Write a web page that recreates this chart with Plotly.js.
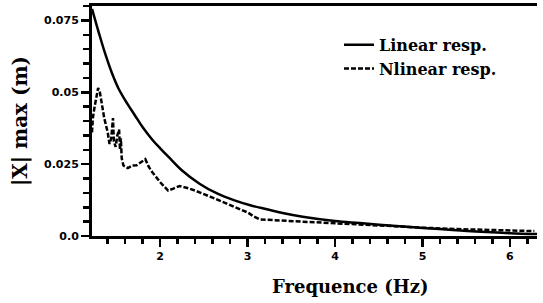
<!DOCTYPE html>
<html>
<head>
<meta charset="utf-8">
<script src="https://cdn.plot.ly/plotly-3.0.1.min.js"></script>
<style>html,body{margin:0;padding:0;background:#fff;}#chart{width:543px;height:303px;}</style>
</head>
<body>
<div id="chart"></div>
<script>
// Linear response
const linFreq = [1.22, 1.30, 1.37, 1.45, 1.52, 1.62, 1.71, 1.80, 1.91, 2.00, 2.09, 2.25, 2.45, 2.65, 2.85, 3.03, 3.22, 3.40, 3.63, 4.00, 4.28, 4.74, 5.00, 5.51, 6.00, 6.31];
const linAmp  = [0.079, 0.0705, 0.0635, 0.0565, 0.0515, 0.0462, 0.042, 0.0378, 0.0335, 0.0305, 0.0277, 0.0228, 0.0182, 0.0148, 0.0124, 0.0107, 0.0093, 0.0080, 0.0067, 0.0052, 0.0045, 0.0034, 0.0028, 0.0017, 0.0010, 0.0007];
// Nonlinear response
const nlFreq = [1.22, 1.23, 1.25, 1.27, 1.29, 1.31, 1.33, 1.36, 1.40, 1.42, 1.44, 1.46, 1.47, 1.49, 1.51, 1.53, 1.54, 1.55, 1.56, 1.58, 1.63, 1.68, 1.73, 1.78, 1.83, 1.87, 1.91, 2.00, 2.09, 2.15, 2.22, 2.30, 2.40, 2.57, 2.75, 2.90, 3.00, 3.07, 3.14, 3.30, 3.60, 4.00, 4.50, 5.00, 5.40, 5.70, 6.00, 6.28];
const nlAmp  = [0.036, 0.041, 0.045, 0.049, 0.0515, 0.050, 0.046, 0.041, 0.036, 0.032, 0.034, 0.041, 0.033, 0.031, 0.035, 0.037, 0.030, 0.034, 0.027, 0.0245, 0.0236, 0.0245, 0.0246, 0.0255, 0.0267, 0.024, 0.0222, 0.0187, 0.0158, 0.0165, 0.0174, 0.0168, 0.0158, 0.0137, 0.0115, 0.0095, 0.0082, 0.0068, 0.0058, 0.0055, 0.0050, 0.0045, 0.0036, 0.0029, 0.0024, 0.0021, 0.0019, 0.0017];
const yTickVals = [0, 0.025, 0.05, 0.075];
const yTickText = ["0.0", "0.025", "0.05", "0.075"];
const xTickVals = [2, 3, 4, 5, 6];
const xTickText = ["2", "3", "4", "5", "6"];
const seriesNames = ["Linear resp.", "Nlinear resp."];

const traces = [
  {x: linFreq, y: linAmp, name: seriesNames[0], mode: 'lines', line: {color: '#000', width: 2.5, shape: 'spline', smoothing: 1}},
  {x: nlFreq, y: nlAmp, name: seriesNames[1], mode: 'lines', line: {color: '#000', width: 2.5, dash: '5px,2px'}}
];

const serif = 'DejaVu Serif, Liberation Serif, serif';
const sans = 'DejaVu Sans, Liberation Sans, sans-serif';

const layout = {
  width: 543, height: 303,
  margin: {l: 92, r: 6, t: 6, b: 67},
  paper_bgcolor: '#fff', plot_bgcolor: '#fff',
  showlegend: true,
  legend: {x: 0.555, xanchor: 'left', y: 0.905, yanchor: 'top', bgcolor: 'rgba(0,0,0,0)',
           font: {family: serif, size: 16, color: '#000', weight: 'bold'}, tracegroupgap: 0},
  xaxis: {
    range: [1.22, 6.31], showgrid: false, zeroline: false,
    showline: true, linecolor: '#000', linewidth: 3, mirror: true,
    ticks: 'outside', ticklen: 8, tickwidth: 2.5, tickcolor: '#000',
    tickmode: 'array', tickvals: xTickVals, ticktext: xTickText,
    tickfont: {family: sans, size: 11, color: '#000', weight: 'bold'},
    minor: {dtick: 0.2, tick0: 0, ticks: 'outside', ticklen: 5, tickwidth: 2.5, tickcolor: '#000', showgrid: false}
  },
  yaxis: {
    range: [0, 0.08], showgrid: false, zeroline: false,
    showline: true, linecolor: '#000', linewidth: 3,
    ticks: 'outside', ticklen: 8, tickwidth: 2.5, tickcolor: '#000',
    tickmode: 'array', tickvals: yTickVals, ticktext: yTickText,
    tickfont: {family: sans, size: 11, color: '#000', weight: 'bold'},
    minor: {dtick: 0.005, tick0: 0, ticks: 'outside', ticklen: 6, tickwidth: 2.5, tickcolor: '#000', showgrid: false},
    title: {text: '|X| max (m)', font: {family: serif, size: 20, color: '#000', weight: 'bold'}, standoff: 12}
  },
  annotations: [
    {text: 'Frequence (Hz)', xref: 'paper', yref: 'paper', x: 0.58, y: -0.22, xanchor: 'center', yanchor: 'middle',
     showarrow: false, font: {family: serif, size: 18, color: '#000', weight: 'bold'}}
  ]
};

Plotly.newPlot('chart', traces, layout, {displayModeBar: false, staticPlot: true});
</script>
</body>
</html>
